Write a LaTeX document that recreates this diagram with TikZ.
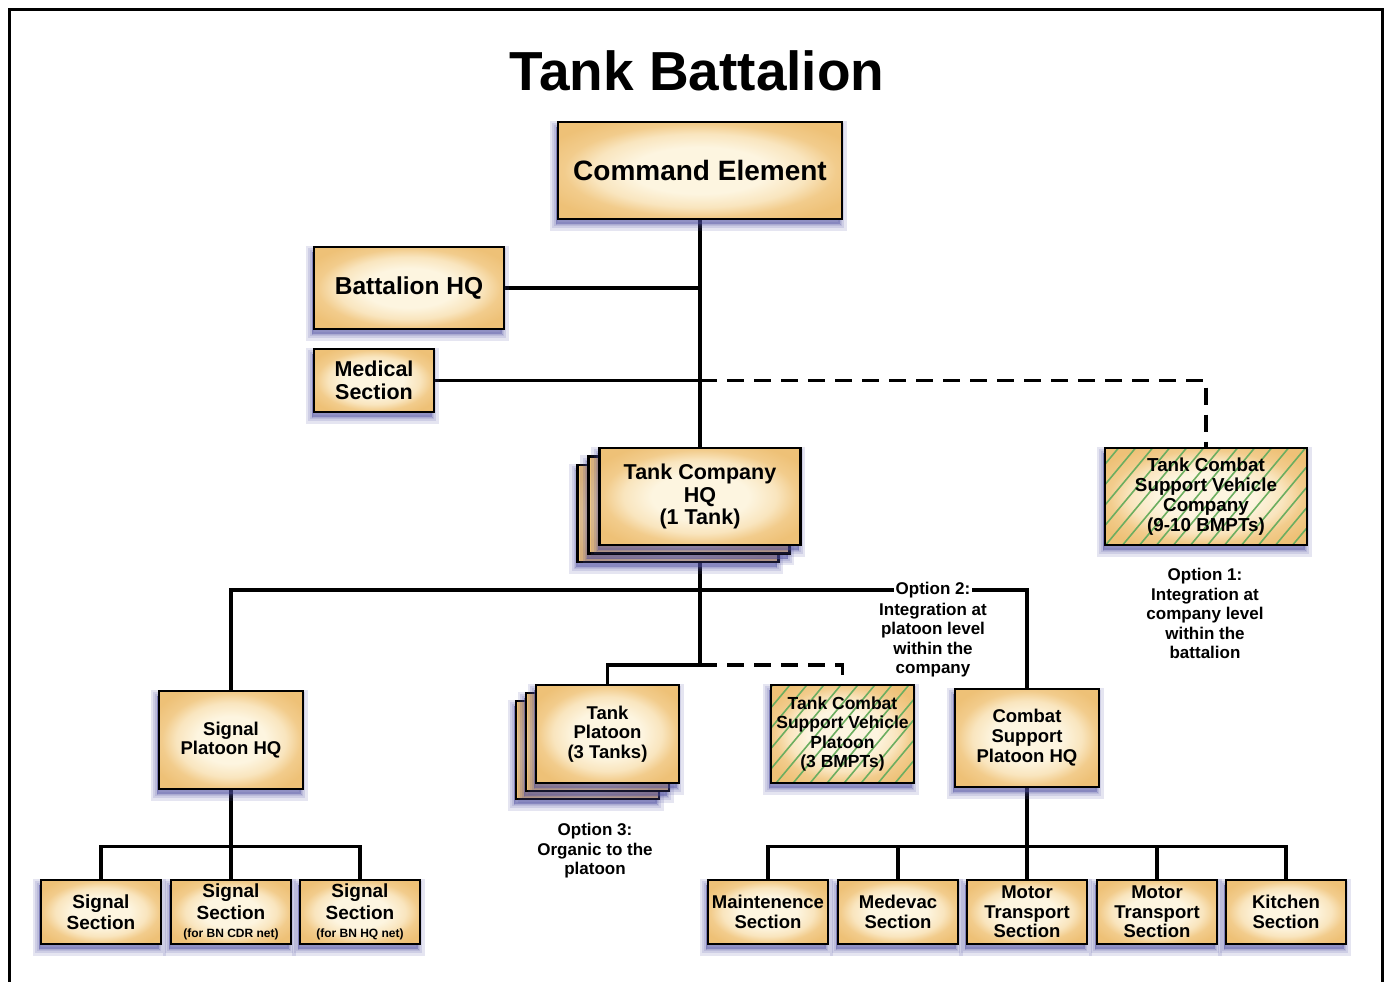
\documentclass[tikz,border=0pt]{standalone}
\usepackage{fontspec}
\setmainfont{Liberation Sans}
\usetikzlibrary{shadows}
\newcommand\fsz[2]{\fontsize{#1}{#2}\selectfont}
\definecolor{boxin}{HTML}{FDF5E0}
\definecolor{boxmid}{HTML}{F9E5BE}
\definecolor{boxout}{HTML}{F2CC8C}
\definecolor{boxedge}{HTML}{EEC177}
\definecolor{shadowc}{HTML}{4E4EA0}
\definecolor{hatchc}{HTML}{6CAE60}
% card fill: pale centre, warmer towards the edges
\pgfdeclareradialshading{cardshade}{\pgfpoint{0bp}{0bp}}{%
  color(0bp)=(boxin); color(12bp)=(boxin); color(19bp)=(boxmid);
  color(24bp)=(boxout); color(30bp)=(boxedge); color(50bp)=(boxedge)}
\pgfdeclarelayer{bg}
\pgfsetlayers{bg,main}
\tikzset{
  softshadow/.style={general shadow={fill=shadowc, draw=shadowc, rounded corners=6pt,
      line width=#1, opacity=0.15, shadow xshift=-2pt, shadow yshift=-5pt}},
  unit/.style={draw=black, line width=2.6pt, shading=cardshade,
      align=center, softshadow=13pt, softshadow=8pt, softshadow=4pt, softshadow=0pt},
  hatched/.style={path picture={
      \foreach \k in {-12,...,7}
        \draw[hatchc, line width=1.6pt]
          ([xshift=\k*17pt, yshift=-2pt]path picture bounding box.south) -- ++(100pt,120pt);}},
  link/.style={line width=3.5pt},
  optlink/.style={line width=3.5pt, dash pattern=on 17pt off 10pt},
  note/.style={align=center, font=\fsz{17}{19.5}\bfseries},
  frame/.style={line width=3pt},
}
\begin{document}
\begin{tikzpicture}[x=1pt,y=-1pt]
\useasboundingbox (0,0) rectangle (1385,982);
% outer frame
\draw[frame] (9.5,982) -- (9.5,9.5) -- (1382.5,9.5) -- (1382.5,982);

\node[font=\fsz{55}{60}\bfseries] (title) at (697,71) {Tank Battalion};

% command level
\node[unit, minimum width=284pt, minimum height=97pt, font=\fsz{28}{30}\bfseries]
  (cmd) at (700,170.5) {Command Element};
\node[unit, minimum width=190pt, minimum height=82pt, font=\fsz{24.5}{26}\bfseries]
  (bhq) at (409,288) {Battalion HQ};
\node[unit, minimum width=120pt, minimum height=63pt, font=\fsz{21.5}{23}\bfseries]
  (med) at (374,380.5) {Medical\\Section};

% company HQ (stack of three)
\node[unit, minimum width=201pt, minimum height=97pt] (tco3) at (678,513.5) {};
\node[unit, minimum width=201pt, minimum height=97pt] (tco2) at (689,505) {};
\node[unit, minimum width=201pt, minimum height=97pt, font=\fsz{21.5}{22.5}\bfseries]
  (tco) at (700,496.5) {Tank Company\\HQ\\(1 Tank)};

\node[unit, hatched, minimum width=202pt, minimum height=97pt, font=\fsz{18.8}{20}\bfseries]
  (tcsvc) at (1206,496.5) {Tank Combat\\Support Vehicle\\Company\\(9-10 BMPTs)};
\node[note] (opt1) at (1205,613.5) {Option 1:\\Integration at\\company level\\within the\\battalion};

% platoon level
\node[unit, minimum width=144pt, minimum height=98pt, font=\fsz{18.5}{19.5}\bfseries]
  (sph) at (231,740) {Signal\\Platoon HQ};

\node[unit, minimum width=143pt, minimum height=98pt] (tpl3) at (587.5,750) {};
\node[unit, minimum width=143pt, minimum height=98pt] (tpl2) at (597.5,742) {};
\node[unit, minimum width=143pt, minimum height=98pt, font=\fsz{18.5}{19.5}\bfseries]
  (tpl) at (607.5,734) {Tank\\Platoon\\(3 Tanks)};
\node[note] (opt3) at (595,851) {Option 3:\\Organic to the\\platoon};

\node[unit, hatched, minimum width=143pt, minimum height=98pt, font=\fsz{17.5}{19.5}\bfseries]
  (tcsvp) at (842.5,734) {Tank Combat\\Support Vehicle\\Platoon\\(3 BMPTs)};
\node[note, inner sep=1.5pt] (opt2a) at (933,590) {Option 2:};
\node[note] (opt2) at (933,640) {Integration at\\platoon level\\within the\\company};

\node[unit, minimum width=144pt, minimum height=98pt, font=\fsz{18.5}{20}\bfseries]
  (csp) at (1027,738) {Combat\\Support\\Platoon HQ};

% sections
\tikzset{sect/.style={unit, minimum width=120pt, minimum height=64pt, font=\fsz{19}{21.5}\bfseries}}
\node[sect] (ss1) at (101,912) {Signal\\Section};
\node[sect] (ss2) at (231,912) {Signal\\Section\\[-3pt]{\fsz{12}{14}\bfseries(for BN CDR net)}};
\node[sect] (ss3) at (360,912) {Signal\\Section\\[-3pt]{\fsz{12}{14}\bfseries(for BN HQ net)}};

\tikzset{sect2/.style={unit, minimum width=120pt, minimum height=64pt, font=\fsz{18.5}{19.5}\bfseries}}
\node[sect2] (mnt) at (768,912) {Maintenence\\Section};
\node[sect2] (mdv) at (898,912) {Medevac\\Section};
\node[sect2] (mt1) at (1027,912) {Motor\\Transport\\Section};
\node[sect2] (mt2) at (1157,912) {Motor\\Transport\\Section};
\node[sect2] (kit) at (1286,912) {Kitchen\\Section};

% connectors
\coordinate (bus2) at (700,665);
\begin{pgfonlayer}{bg}
  \draw[link] (cmd.south) -- (tco.north);
  \draw[link] (bhq.east) -- (bhq.east -| cmd.south);
  \draw[link] (med.east) -- (med.east -| cmd.south);
  \draw[optlink] (med.east -| cmd.south) -| (tcsvc.north);
  \draw[link] (tco.south) -- (bus2);
  \draw[link] (sph.north) |- (opt2a.west);
  \draw[link] (opt2a.east) -| (csp.north);
  \draw[link] (bus2) -| (tpl.north);
  \draw[optlink] (bus2) -| (tcsvp.north);
  \draw[link] (sph.south) -- (ss2.north);
  \draw[link] (ss1.north) -- ++(0,-32) -| (ss3.north);
  \draw[link] (csp.south) -- (mt1.north);
  \draw[link] (mnt.north) -- ++(0,-32) -| (kit.north);
  \draw[link] (mdv.north) -- ++(0,-32);
  \draw[link] (mt2.north) -- ++(0,-32);
\end{pgfonlayer}
\end{tikzpicture}
\end{document}
